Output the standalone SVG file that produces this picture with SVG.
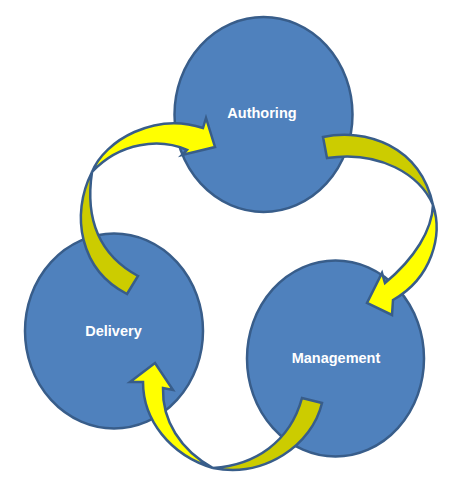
<svg xmlns="http://www.w3.org/2000/svg" width="467" height="493" viewBox="0 0 467 493">
<style>
.node{fill:#4F81BD;stroke:#385D8A;stroke-width:2.5}
.lbl{font-family:"Liberation Sans",Arial,sans-serif;font-weight:bold;font-size:14.5px;fill:#FFFFFF;text-anchor:middle}
.dark{fill:#CCCC00;stroke:#385D8A;stroke-width:2.5;stroke-linejoin:miter}
.bright{fill:#FFFF00;stroke:#385D8A;stroke-width:2.5;stroke-linejoin:miter}
</style>
<rect width="467" height="493" fill="#FFFFFF"/>
<g id="authoring">
<ellipse class="node" cx="263.5" cy="114.5" rx="89" ry="97.5"/>
<text class="lbl" x="262" y="118">Authoring</text>
</g>
<g id="delivery">
<ellipse class="node" cx="114" cy="331" rx="89" ry="97.5"/>
<text class="lbl" x="113.5" y="336">Delivery</text>
</g>
<g id="management">
<ellipse class="node" cx="335.5" cy="358.5" rx="88.5" ry="98"/>
<text class="lbl" x="336" y="363">Management</text>
</g>
<g id="connectors">
<g id="delivery-to-authoring">
<path class="dark" d="M127,294 C80,270 70,215 92,172 C86,212 94,252 138,276 Z"/>
<path class="bright" d="M92,172 C105,140 155,112 203,128 L206,118 L215,147 L182,155 L187,150 C160,138 120,142 92,172 Z"/>
</g>
<g id="authoring-to-management">
<path class="dark" d="M323,137 C365,128 420,145 433,205 C420,175 380,150 327,158 Z"/>
<path class="bright" d="M433,205 C443,235 432,278 393,300 L392,315 L367,303 L382,273 L385,283 C415,258 432,230 433,205 Z"/>
</g>
<g id="management-to-delivery">
<path class="dark" d="M322,403 C312,445 265,478 213,468 C255,465 290,442 302,398 Z"/>
<path class="bright" d="M213,468 C170,455 143,420 143,382 L130,382 L155,363 L173,390 L163,388 C162,420 180,450 213,468 Z"/>
</g>
</g>
</svg>
